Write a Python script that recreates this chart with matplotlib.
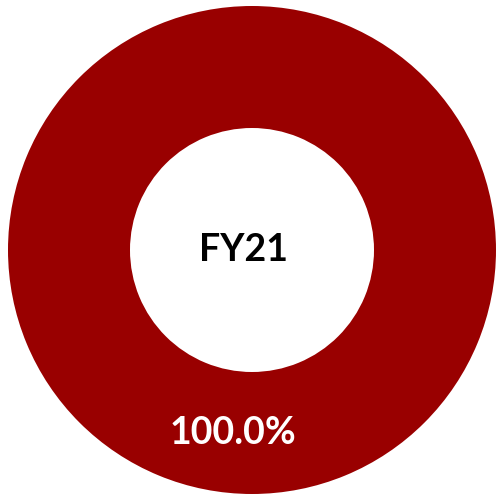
import matplotlib.pyplot as plt

# dados do gráfico de rosca
categorias = ['FY21']
valores = [100.0]
cores = ['#990000']
titulo_centro = 'FY21'

fig = plt.figure(figsize=(4.97, 4.95), dpi=100)
ax = fig.add_axes([8 / 497, 1 / 495, 488 / 497, 488 / 495])

wedges, textos, autotextos = ax.pie(
    valores,
    labels=None,
    colors=cores,
    startangle=84,
    radius=1.0,
    autopct='%1.1f%%',
    pctdistance=0.755,
    wedgeprops=dict(width=0.5, edgecolor='none'),
    textprops=dict(color='white', fontsize=27, fontweight='bold', family='Lato'),
)

# texto no centro da rosca
ax.text(-0.035, 0.0, titulo_centro, ha='center', va='center',
        fontsize=27, fontweight='bold', family='Lato', color='black')

ax.set_xlim(-1, 1)
ax.set_ylim(-1, 1)
ax.set_aspect('equal')
ax.axis('off')

fig.savefig('out.png', dpi=100)
